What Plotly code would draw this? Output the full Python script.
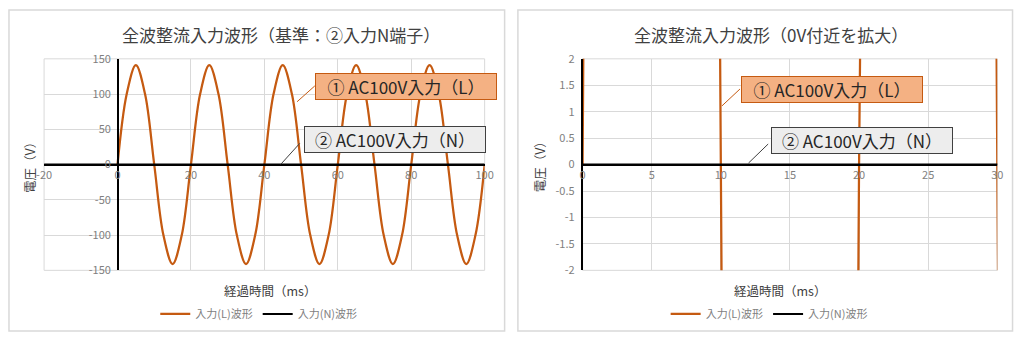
import plotly.graph_objects as go

# ---------------- data ----------------
time_L = [0, 2.5, 5, 7.5, 10, 12.5, 15, 17.5, 20,
          22.5, 25, 27.5, 30, 32.5, 35, 37.5, 40,
          42.5, 45, 47.5, 50, 52.5, 55, 57.5, 60,
          62.5, 65, 67.5, 70, 72.5, 75, 77.5, 80,
          82.5, 85, 87.5, 90, 92.5, 95, 97.5, 100]
input_L = [0, 100, 141, 100, 0, -100, -141, -100, 0,
           100, 141, 100, 0, -100, -141, -100, 0,
           100, 141, 100, 0, -100, -141, -100, 0,
           100, 141, 100, 0, -100, -141, -100, 0,
           100, 141, 100, 0, -100, -141, -100, 0]
time_N = [-20, 100]
input_N = [0, 0]

series_names = ["入力(L)波形", "入力(N)波形"]

left_x_ticks = [-20, 0, 20, 40, 60, 80, 100]
left_x_labels = ["-20", "0", "20", "40", "60", "80", "100"]
left_y_ticks = [-150, -100, -50, 0, 50, 100, 150]
left_y_labels = ["-150", "-100", "-50", "0", "50", "100", "150"]
right_x_ticks = [0, 5, 10, 15, 20, 25, 30]
right_x_labels = ["0", "5", "10", "15", "20", "25", "30"]
right_y_ticks = [-2, -1.5, -1, -0.5, 0, 0.5, 1, 1.5, 2]
right_y_labels = ["-2", "-1.5", "-1", "-0.5", "0", "0.5", "1", "1.5", "2"]

left_title = "全波整流入力波形（基準：②入力N端子）"
right_title = "全波整流入力波形（0V付近を拡大）"
x_title = "経過時間（ms）"
y_title = "電圧（V）"
callout_L = "① AC100V入力（L）"
callout_N = "② AC100V入力（N）"

# ---------------- styling ----------------
W, H = 1024, 339
FONT = "Noto Sans CJK JP"
L_COLOR = "#C55A11"
N_COLOR = "#000000"
GRID = "#D9D9D9"
TICK_COLOR = "#7F7F7F"
TEXT_DARK = "#404040"


def px(x):
    return x / W


def py(y):
    return 1 - y / H


fig = go.Figure()

for xa, ya, lg, shape in (("x", "y", "legend", "spline"), ("x2", "y2", "legend2", "linear")):
    fig.add_trace(go.Scatter(x=time_L, y=input_L, mode="lines", name=series_names[0],
                             line=dict(color=L_COLOR, width=2.25, shape=shape),
                             xaxis=xa, yaxis=ya, legend=lg))
    fig.add_trace(go.Scatter(x=time_N, y=input_N, mode="lines", name=series_names[1],
                             line=dict(color=N_COLOR, width=2),
                             xaxis=xa, yaxis=ya, legend=lg))

y_dom = [py(274.3), py(52.3)]
zero_pos = py(163.3)
tickfont = dict(family=FONT, size=11, color=TICK_COLOR)

common_x = dict(showgrid=True, gridcolor=GRID, gridwidth=1, zeroline=False,
                ticks="", tickfont=tickfont, showline=True, linecolor="#000000",
                linewidth=1.5, anchor="free", position=zero_pos)
common_y = dict(showgrid=True, gridcolor=GRID, gridwidth=1, zeroline=False,
                ticks="", tickfont=tickfont, showline=True, linecolor="#000000",
                linewidth=1.5, domain=y_dom, ticklabelstandoff=4)

fig.update_layout(
    width=W, height=H,
    margin=dict(l=0, r=0, t=0, b=0),
    paper_bgcolor="white", plot_bgcolor="white",
    font=dict(family=FONT, color=TEXT_DARK),
    xaxis=dict(domain=[px(36.7), px(484.7)], range=[-20, 100],
               tickvals=left_x_ticks, ticktext=left_x_labels, **common_x),
    yaxis=dict(range=[-150, 150], tickvals=left_y_ticks, ticktext=left_y_labels,
               anchor="free", position=px(111.7), **common_y),
    xaxis2=dict(domain=[px(584.3), px(1006)], range=[0, 30],
                tickvals=right_x_ticks, ticktext=right_x_labels, **common_x),
    yaxis2=dict(range=[-2, 2], tickvals=right_y_ticks, ticktext=right_y_labels,
                anchor="x2", **common_y),
    legend=dict(orientation="h", x=px(255), xanchor="center", y=py(320), yanchor="middle",
                font=dict(family=FONT, size=11, color=TICK_COLOR),
                bgcolor="rgba(0,0,0,0)", itemwidth=30),
    legend2=dict(orientation="h", x=px(774), xanchor="center", y=py(320), yanchor="middle",
                 font=dict(family=FONT, size=11, color=TICK_COLOR),
                 bgcolor="rgba(0,0,0,0)", itemwidth=30),
    showlegend=True,
)

annotations = []
# titles
annotations.append(dict(text=left_title, x=px(278), y=py(27), xref="paper", yref="paper",
                        showarrow=False, xanchor="center", yanchor="middle",
                        font=dict(family=FONT, size=17, color=TEXT_DARK)))
annotations.append(dict(text=right_title, x=px(776), y=py(27), xref="paper", yref="paper",
                        showarrow=False, xanchor="center", yanchor="middle",
                        font=dict(family=FONT, size=17, color=TEXT_DARK)))
# axis titles
for cx in (266, 785):
    annotations.append(dict(text=x_title, x=px(cx), y=py(295), xref="paper", yref="paper",
                            showarrow=False, xanchor="center", yanchor="middle",
                            font=dict(family=FONT, size=12.5, color=TEXT_DARK)))
for cx in (22, 540):
    annotations.append(dict(text=y_title, x=px(cx), y=py(163), xref="paper", yref="paper",
                            showarrow=False, xanchor="center", yanchor="middle", textangle=-90,
                            font=dict(family=FONT, size=12.5, color=TEXT_DARK)))

# callout boxes: (text, center x, center y, fill, border)
boxes = [
    (callout_L, 404.5, 81.3, "#F4B183", L_COLOR),
    (callout_N, 393.3, 137.0, "#EDEDED", "#404040"),
    (callout_L, 837.5, 85.0, "#F4B183", L_COLOR),
    (callout_N, 868.8, 138.3, "#EDEDED", "#404040"),
]
for text, cx, cy, fill, border in boxes:
    annotations.append(dict(text=text, x=px(cx), y=py(cy), xref="paper", yref="paper",
                            showarrow=False, xanchor="center", yanchor="middle",
                            width=176, height=21, align="center",
                            bgcolor=fill, bordercolor=border, borderwidth=1, borderpad=2,
                            font=dict(family=FONT, size=17, color="#262626")))
fig.update_layout(annotations=annotations)

shapes = []
# panel borders
for x0, x1 in ((1, 505), (518.5, 1021.5)):
    shapes.append(dict(type="rect", xref="paper", yref="paper", x0=px(x0), x1=px(x1),
                       y0=py(338), y1=py(1), line=dict(color=GRID, width=1.5),
                       fillcolor="rgba(0,0,0,0)", layer="below"))
# plot area outlines
for xr, yr in (("x domain", "y domain"), ("x2 domain", "y2 domain")):
    shapes.append(dict(type="rect", xref=xr, yref=yr, x0=0, x1=1, y0=0, y1=1,
                       line=dict(color=GRID, width=1), layer="below"))
# callout leader lines
leaders = [
    ((312, 80.7), (294, 97.3), L_COLOR),
    ((296.7, 141), (277.4, 163), "#404040"),
    ((744.3, 84), (726, 101.7), L_COLOR),
    ((773, 141.7), (753, 161.7), "#404040"),
]
for (x0, y0), (x1, y1), c in leaders:
    shapes.append(dict(type="line", xref="paper", yref="paper", x0=px(x0), y0=py(y0),
                       x1=px(x1), y1=py(y1), line=dict(color=c, width=1)))
fig.update_layout(shapes=shapes)

fig.write_html("out.html")
